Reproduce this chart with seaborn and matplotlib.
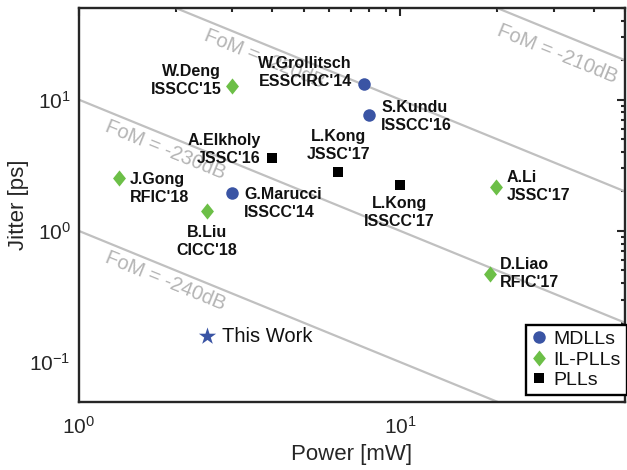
import numpy as np
import pandas as pd
import matplotlib
matplotlib.use("Agg")
import matplotlib.pyplot as plt
from matplotlib.lines import Line2D
from matplotlib.ticker import LogLocator, NullFormatter
import seaborn as sns

# ---------------- data ----------------
mdll_names = ["W.Grollitsch\nESSCIRC'14", "S.Kundu\nISSCC'16", "G.Marucci\nISSCC'14"]
mdll_power = [7.7, 8.0, 3.0]
mdll_jitter = [13.1, 7.7, 1.95]

il_names = ["W.Deng\nISSCC'15", "J.Gong\nRFIC'18", "B.Liu\nCICC'18", "A.Li\nJSSC'17", "D.Liao\nRFIC'17"]
il_power = [3.0, 1.33, 2.5, 19.8, 19.0]
il_jitter = [12.7, 2.53, 1.43, 2.18, 0.47]

pll_names = ["A.Elkholy\nJSSC'16", "L.Kong\nJSSC'17", "L.Kong\nISSCC'17"]
pll_power = [4.0, 6.4, 10.0]
pll_jitter = [3.6, 2.8, 2.25]

this_name = "This Work"
this_power = [2.5]
this_jitter = [0.158]

fom_levels = [-210, -220, -230, -240]
fom_label_x = [30.8, 3.77, 1.86, 1.86]

categories = ["MDLLs", "IL-PLLs", "PLLs"]

# ---------------- layout (label offsets in pixels: dx, dy, ha) ----------------
label_layout = {
    "W.Grollitsch\nESSCIRC'14": (-12, 12, "right"),
    "S.Kundu\nISSCC'16": (12, -2, "left"),
    "G.Marucci\nISSCC'14": (12, -11, "left"),
    "W.Deng\nISSCC'15": (-11, 6, "right"),
    "J.Gong\nRFIC'18": (11, -10, "left"),
    "B.Liu\nCICC'18": (0, -31, "center"),
    "A.Li\nJSSC'17": (11, 0, "left"),
    "D.Liao\nRFIC'17": (10, 0, "left"),
    "A.Elkholy\nJSSC'16": (-12, 8, "right"),
    "L.Kong\nJSSC'17": (0, 27, "center"),
    "L.Kong\nISSCC'17": (-1, -28, "center"),
}

BLUE = "#3a54a4"
GREEN = "#6cbf47"
BLACK = "#000000"
GRAY_LINE = "#c0c0c0"
GRAY_TEXT = "#b4b4b4"
AX_COLOR = "#262626"
TXT = "#111111"

sns.set_style("white")
plt.rcParams["font.family"] = ["Liberation Sans", "DejaVu Sans"]
plt.rcParams["mathtext.fontset"] = "custom"
plt.rcParams["mathtext.rm"] = "Liberation Sans"
plt.rcParams["mathtext.it"] = "Liberation Sans:italic"
plt.rcParams["mathtext.bf"] = "Liberation Sans:bold"

fig = plt.figure(figsize=(6.27, 4.70), dpi=100)
ax = fig.add_axes([0.126, 0.1453, 0.8708, 0.8377])
ax.set_xscale("log")
ax.set_yscale("log")
ax.set_xlim(1, 50)
ax.set_ylim(0.05, 50)

# FoM reference lines
xs = np.logspace(0, np.log10(50), 50)
for fom, lx in zip(fom_levels, fom_label_x):
    k = 10 ** ((fom + 240) / 10.0)
    df_line = pd.DataFrame({"x": xs, "y": k / xs})
    sns.lineplot(data=df_line, x="x", y="y", color=GRAY_LINE, linewidth=1.6, ax=ax, zorder=1)
    ratio = 0.69 if fom == -210 else 0.775
    ax.text(lx, k / lx * ratio, f"FoM = {fom}dB", color=GRAY_TEXT, fontsize=14.5,
            rotation=-22.1, rotation_mode="anchor", ha="center", va="center", zorder=1)

# scatter groups
diamond = [(0, 1), (0.8, 0), (0, -1), (-0.8, 0), (0, 1)]
groups = [
    (mdll_names, mdll_power, mdll_jitter, "o", 81, BLUE),
    (il_names, il_power, il_jitter, diamond, 135, GREEN),
    (pll_names, pll_power, pll_jitter, "s", 48, BLACK),
]
for names, pw, jt, mk, size, col in groups:
    sns.scatterplot(x=pw, y=jt, marker=mk, s=size, color=col, linewidth=0, ax=ax, zorder=3)
    for n, xv, yv in zip(names, pw, jt):
        dx, dy, ha = label_layout[n]
        ax.annotate(n, xy=(xv, yv), xytext=(dx, dy), textcoords="offset pixels",
                    ha=ha, va="center", fontsize=11.5, fontweight="bold", color=TXT,
                    linespacing=1.25, zorder=4)

sns.scatterplot(x=this_power, y=this_jitter, marker="*", s=170, color=BLUE, linewidth=0, ax=ax, zorder=3)
ax.annotate(this_name, xy=(this_power[0], this_jitter[0]), xytext=(15, 0), textcoords="offset pixels",
            ha="left", va="center", fontsize=14.5, color=TXT)

# axes styling
for sp in ax.spines.values():
    sp.set_visible(True)
    sp.set_linewidth(1.7)
    sp.set_color(AX_COLOR)
ax.xaxis.set_major_locator(LogLocator(base=10, numticks=10))
ax.yaxis.set_major_locator(LogLocator(base=10, numticks=10))
ax.xaxis.set_minor_locator(LogLocator(base=10, subs=np.arange(2, 10), numticks=20))
ax.yaxis.set_minor_locator(LogLocator(base=10, subs=np.arange(2, 10), numticks=20))
ax.xaxis.set_minor_formatter(NullFormatter())
ax.yaxis.set_minor_formatter(NullFormatter())
ax.tick_params(which="both", direction="in", top=True, right=True, color=AX_COLOR, width=1.5)
ax.tick_params(which="major", length=5.5, labelsize=15, colors=AX_COLOR)
ax.tick_params(which="minor", length=3)
ax.tick_params(axis="x", which="major", pad=10)
ax.tick_params(axis="y", which="major", pad=6)

ax.set_xlabel("Power [mW]", fontsize=16, color=AX_COLOR, labelpad=5)
ax.set_ylabel("Jitter [ps]", fontsize=16, color=AX_COLOR, labelpad=0)

# legend
handles = [
    Line2D([], [], linestyle="none", marker="o", markersize=9, color=BLUE, markeredgewidth=0),
    Line2D([], [], linestyle="none", marker=diamond, markersize=11.5, color=GREEN, markeredgewidth=0),
    Line2D([], [], linestyle="none", marker="s", markersize=6.5, color=BLACK, markeredgewidth=0),
]
leg = ax.legend(handles, categories, loc="lower right", bbox_to_anchor=(1.003, 0.017),
                borderaxespad=0, fontsize=14, frameon=True, fancybox=False,
                handlelength=0.7, handletextpad=0.4, labelspacing=0.15,
                borderpad=0.3, edgecolor="black")
leg.get_frame().set_linewidth(1.7)
leg.get_frame().set_alpha(1)
for t in leg.get_texts():
    t.set_color(TXT)

fig.savefig("out.png", dpi=100)
